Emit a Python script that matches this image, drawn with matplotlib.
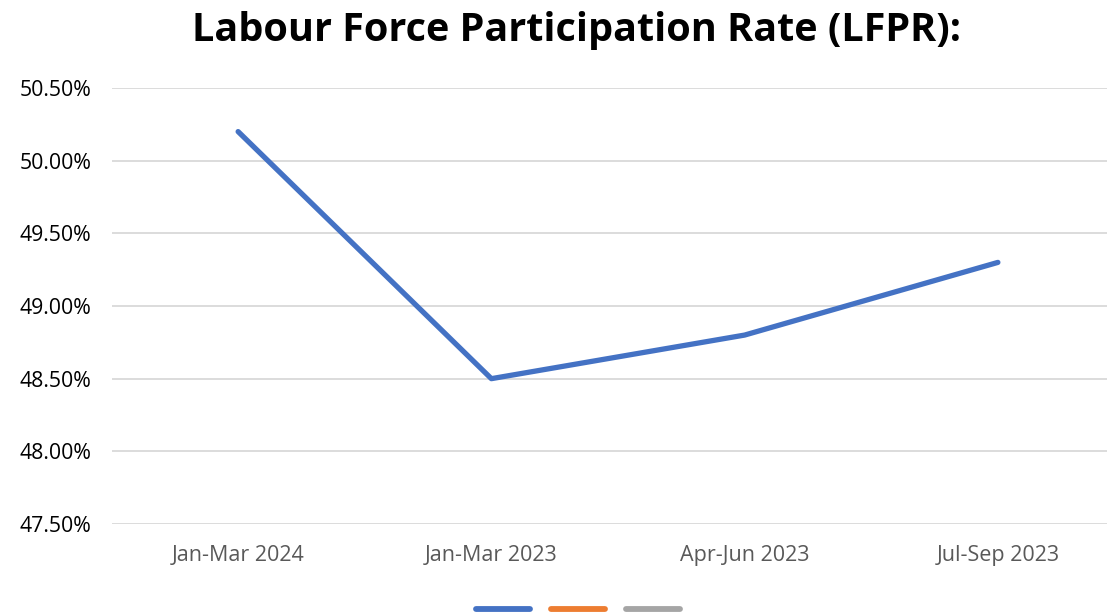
import matplotlib.pyplot as plt
from matplotlib.ticker import FuncFormatter

plt.rcParams['font.family'] = ['Open Sans', 'DejaVu Sans']

quarters = ["Jan-Mar 2024", "Jan-Mar 2023", "Apr-Jun 2023", "Jul-Sep 2023"]
lfpr = [50.20, 48.50, 48.80, 49.30]
# the legend shows two more series that carry no data
series2 = []
series3 = []

fig = plt.figure(figsize=(11.07, 6.14), dpi=100)
ax = fig.add_axes([112 / 1107, 90 / 614, 995 / 1107, 436 / 614])

x = list(range(len(quarters)))
ax.plot(x, lfpr, color='#4472C4', lw=3.8, solid_capstyle='round', label=' ')
ax.plot(series2, series2, color='#ED7D31', lw=4.2, solid_capstyle='round', label=' ')
ax.plot(series3, series3, color='#A5A5A5', lw=4.2, solid_capstyle='round', label=' ')

ax.set_xlim(-126 / 253, 3 + 109 / 253)
ax.set_ylim(47.5, 50.5)
ax.set_yticks([47.5, 48.0, 48.5, 49.0, 49.5, 50.0, 50.5])
ax.yaxis.set_major_formatter(FuncFormatter(lambda v, p: f"{v:.2f}%"))
ax.set_xticks(x)
ax.set_xticklabels(quarters)
ax.tick_params(axis='x', colors='#595959', labelsize=15.5, length=0, pad=15)
ax.tick_params(axis='y', colors='black', labelsize=15.3, length=0, pad=15)
ax.grid(axis='y', color='#D9D9D9', lw=1.3)
ax.set_axisbelow(True)
for s in ax.spines.values():
    s.set_visible(False)

fig.suptitle("Labour Force Participation Rate (LFPR):", fontsize=28.5,
             fontweight='bold', y=0.982, x=0.521)

leg = fig.legend(loc='lower center', ncol=3, bbox_to_anchor=(0.524, -0.035),
                 frameon=False, handlelength=3.0, columnspacing=0.9,
                 handletextpad=0.0, fontsize=13)
leg.legend_handles[0].set_linewidth(4.2)

fig.savefig("out.png", dpi=100)
